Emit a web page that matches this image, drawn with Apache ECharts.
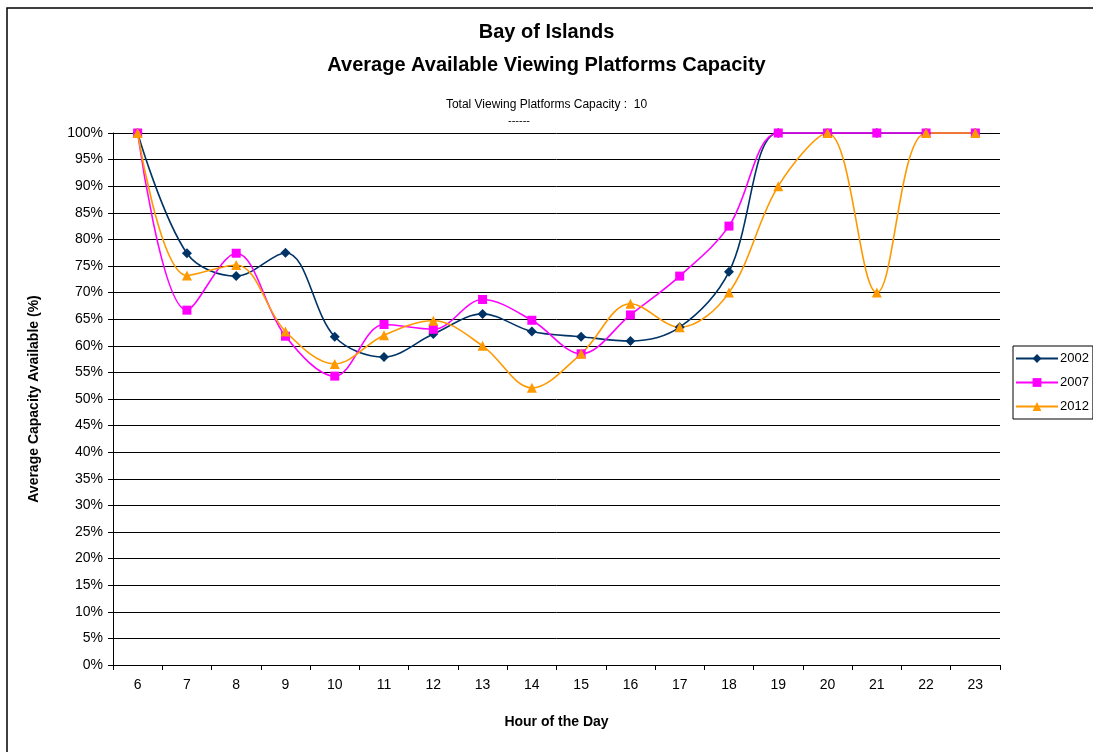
<!DOCTYPE html>
<html>
<head>
<meta charset="utf-8">
<script src="https://cdn.jsdelivr.net/npm/echarts@6/dist/echarts.min.js"></script>
<style>
  html, body { margin: 0; padding: 0; background: #fff; }
  #chart { width: 1093px; height: 752px; }
</style>
</head>
<body>
<div id="chart"></div>
<script>
// Hour of the day
const hours = ['6', '7', '8', '9', '10', '11', '12', '13', '14', '15', '16', '17', '18', '19', '20', '21', '22', '23'];

// Average available capacity (%) per year
const cap2002 = [100, 77.4, 73.1, 77.5, 61.7, 57.9, 62.2, 66.0, 62.7, 61.7, 60.9, 63.5, 73.9, 100, 100, 100, 100, 100];
const cap2007 = [100, 66.7, 77.4, 61.8, 54.3, 64.0, 63.1, 68.7, 64.8, 58.5, 65.8, 73.1, 82.5, 100, 100, 100, 100, 100];
const cap2012 = [100, 73.2, 75.2, 62.7, 56.6, 62.0, 64.7, 60.0, 52.1, 58.5, 67.9, 63.5, 70.0, 90, 100, 70, 100, 100];

const seriesNames = ['2002', '2007', '2012'];

const font = 'Liberation Sans, Arial, sans-serif';

const chart = echarts.init(document.getElementById('chart'), null, { renderer: 'canvas' });

function lineSeries(name, data, color, symbol, size) {
  return {
    name: name,
    type: 'line',
    data: data,
    smooth: 0.35,
    clip: false,
    symbol: symbol,
    symbolSize: size,
    showAllSymbol: true,
    lineStyle: { color: color, width: 1.6 },
    itemStyle: { color: color },
    emphasis: { disabled: true },
    z: 3
  };
}

chart.setOption({
  animation: false,
  backgroundColor: '#ffffff',
  title: [
    {
      text: 'Bay of Islands',
      left: 'center', top: 17,
      textStyle: { fontFamily: font, fontSize: 20, fontWeight: 'bold', color: '#000' }
    },
    {
      text: 'Average Available Viewing Platforms Capacity',
      left: 'center', top: 50,
      textStyle: { fontFamily: font, fontSize: 20, fontWeight: 'bold', color: '#000' }
    },
    {
      text: 'Total Viewing Platforms Capacity :  10',
      left: 'center', top: 94,
      textStyle: { fontFamily: font, fontSize: 12, fontWeight: 'normal', color: '#000' }
    }
  ],
  legend: {
    data: seriesNames,
    orient: 'vertical',
    left: 1013, top: 346,
    itemWidth: 42, itemHeight: 11,
    itemGap: 11,
    padding: [6, 4, 6, 2],
    borderColor: '#000', borderWidth: 1,
    textStyle: { fontFamily: font, fontSize: 13, color: '#000', padding: [0, 0, 0, -3] }
  },
  grid: { left: 113, right: 93, top: 133, bottom: 87, containLabel: false },
  xAxis: {
    type: 'category',
    data: hours,
    boundaryGap: true,
    name: 'Hour of the Day',
    nameLocation: 'middle',
    nameGap: 50,
    nameTextStyle: { fontFamily: font, fontSize: 14, fontWeight: 'bold', color: '#000' },
    axisLine: { lineStyle: { color: '#000', width: 1 } },
    axisTick: { show: true, alignWithLabel: false, length: 5, lineStyle: { color: '#000' } },
    axisLabel: { fontFamily: font, fontSize: 14, color: '#000', margin: 13 },
    splitLine: { show: false }
  },
  yAxis: {
    type: 'value',
    min: 0, max: 100, interval: 5,
    name: 'Average Capacity Available (%)',
    nameLocation: 'middle',
    nameGap: 72,
    nameRotate: 90,
    nameTextStyle: { fontFamily: font, fontSize: 14, fontWeight: 'bold', color: '#000' },
    axisLine: { show: true, lineStyle: { color: '#000', width: 1 } },
    axisTick: { show: true, length: 5, lineStyle: { color: '#000' } },
    axisLabel: { fontFamily: font, fontSize: 14, color: '#000', margin: 10, formatter: '{value}%' },
    splitLine: { show: true, lineStyle: { color: '#000', width: 1 } }
  },
  series: [
    lineSeries('2002', cap2002, '#003366', 'diamond', 10),
    lineSeries('2007', cap2007, '#ff00ff', 'rect', 9),
    lineSeries('2012', cap2012, '#ff9900', 'triangle', 10)
  ],
  graphic: [
    {
      type: 'rect',
      shape: { x: 7, y: 8, width: 1200, height: 1000 },
      style: { fill: 'none', stroke: '#000', lineWidth: 1.5 },
      silent: true, z: 0
    },
    {
      type: 'text',
      left: 508, top: 115,
      style: { text: '------', font: '11px ' + font, fill: '#000' },
      silent: true
    }
  ]
});
</script>
</body>
</html>
